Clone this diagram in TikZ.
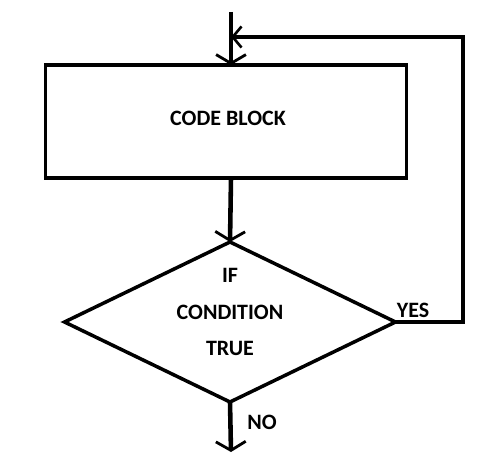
\documentclass[tikz,border=0pt]{standalone}
\usepackage{fontspec}
\setmainfont{Carlito}
\usetikzlibrary{arrows.meta,calc,positioning,shapes.geometric}

\tikzset{
  flowline/.style={line width=2.6pt,-{Straight Barb[length=5pt,width=17pt,line width=1.6pt]}},
  backline/.style={line width=2pt,-{Straight Barb[length=5pt,width=12pt,line width=1.5pt]}},
  lbl/.style={font=\bfseries\fontsize{12.5}{14}\selectfont,inner sep=0pt}
}

\begin{document}
\begin{tikzpicture}[x=0.02cm,y=-0.02cm]
  \useasboundingbox (0,0) rectangle (500,476);
  \coordinate (start) at (231,12);
  \node[draw,line width=2pt,minimum width=361*0.02cm,minimum height=113*0.02cm,inner sep=0pt,outer sep=0pt] (block) at (226,121.5) {};
  \node[lbl] at (228,118) {CODE BLOCK};
  \node[draw,diamond,line width=2pt,minimum width=331*0.02cm,minimum height=160*0.02cm,inner sep=0pt,outer sep=0pt] (cond) at (230,322) {};
  \node[lbl,align=center] (condtext) at (230,312) {IF\\[7pt]CONDITION\\[7pt]TRUE};
  \coordinate (loop) at (463,37);
  \coordinate (stop) at (231,452);
  \draw[flowline] (start) -- (block.north -| start);
  \draw[flowline] (block.south -| start) -- (cond.north);
  \draw[backline] (cond.east) -| (loop) -- (start |- loop);
  \draw[flowline] (cond.south) -- (stop);
  \node[lbl] at (413,310) {YES};
  \node[lbl] at (262,422) {NO};
\end{tikzpicture}
\end{document}
